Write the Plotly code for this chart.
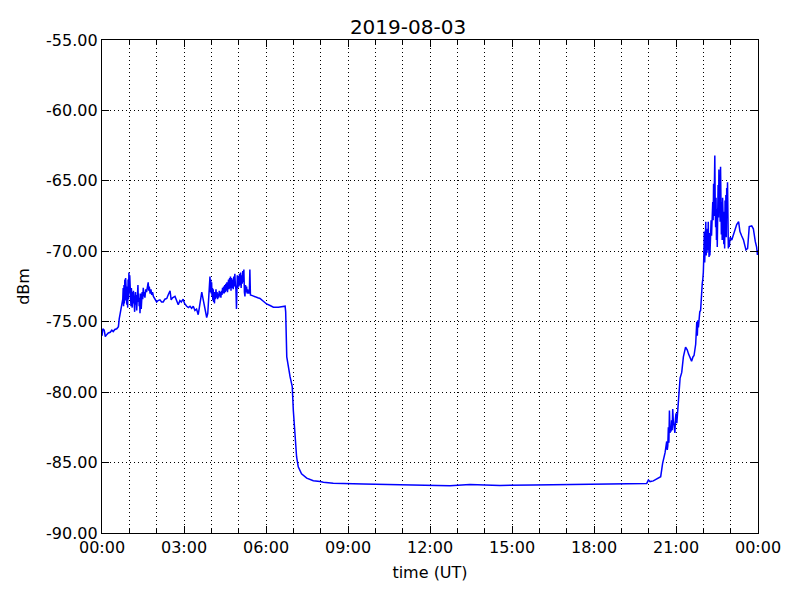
import plotly.graph_objects as go
import pandas as pd

title_text = "2019-08-03"
x_label = "time (UT)"
y_label = "dBm"

hours = [
    0.0, 0.03, 0.08, 0.12, 0.18, 0.23, 0.3, 0.36, 0.41, 0.47, 0.54, 0.6, 0.63, 0.66, 0.72,
    0.76, 0.775, 0.79, 0.805, 0.82, 0.835, 0.85, 0.865, 0.88, 0.895, 0.91, 0.925, 0.94, 0.955, 0.97, 0.985,
    1.0, 1.015, 1.03, 1.045, 1.06, 1.075, 1.09, 1.105, 1.12, 1.135, 1.15, 1.165, 1.18, 1.195, 1.21, 1.225,
    1.24, 1.255, 1.27, 1.285, 1.3, 1.315, 1.33, 1.345, 1.36, 1.375, 1.39, 1.405, 1.42, 1.435, 1.45,
    1.47, 1.49, 1.51, 1.53, 1.55, 1.57, 1.6, 1.63, 1.66, 1.69, 1.71, 1.73, 1.76, 1.79, 1.82, 1.85, 1.88,
    1.93, 2.0, 2.05, 2.12, 2.18, 2.24, 2.3, 2.37, 2.42, 2.49, 2.53, 2.58, 2.67, 2.73, 2.79, 2.85, 2.9,
    2.97, 3.02, 3.1, 3.16, 3.22, 3.28, 3.34, 3.4, 3.46, 3.52, 3.57, 3.62, 3.65, 3.69, 3.73, 3.78, 3.83,
    3.87, 3.9,
    3.93, 3.95, 3.965, 3.98, 3.995, 4.01, 4.025, 4.04, 4.055, 4.07, 4.085, 4.1, 4.115, 4.13, 4.15, 4.17,
    4.19, 4.21, 4.23, 4.25, 4.27, 4.29, 4.31, 4.33, 4.35, 4.37, 4.39, 4.41, 4.43, 4.45, 4.47, 4.49,
    4.51, 4.53, 4.55, 4.57, 4.59, 4.61, 4.63, 4.65, 4.67, 4.69, 4.7, 4.72, 4.74, 4.76, 4.78, 4.8,
    4.82, 4.84, 4.86, 4.88, 4.9, 4.92, 4.93, 4.95, 4.97, 4.99, 5.01, 5.03, 5.05, 5.07, 5.09, 5.11,
    5.13, 5.15, 5.17, 5.19, 5.21, 5.23, 5.25, 5.27, 5.29, 5.31, 5.33, 5.35, 5.37, 5.39, 5.41, 5.43,
    5.5, 5.6, 5.7, 5.78, 5.9, 6.02, 6.15, 6.27, 6.45, 6.63, 6.7, 6.72, 6.76, 6.88, 6.96, 7.0, 7.06,
    7.12, 7.18, 7.3, 7.49, 7.73, 7.98, 8.1, 8.46, 9.07, 9.56, 10.9, 12.0, 12.73, 13.46, 14.56, 15.78,
    16.76, 17.6, 18.8, 19.93, 19.99, 20.05, 20.17, 20.3, 20.35, 20.44, 20.51, 20.6,
    20.66, 20.68, 20.7, 20.72, 20.74, 20.76, 20.78, 20.8, 20.82, 20.84, 20.86, 20.88, 20.9, 20.93, 20.96,
    20.98, 21.0, 21.03, 21.05, 21.08, 21.15, 21.21, 21.27, 21.35, 21.41, 21.46, 21.51, 21.57, 21.62, 21.66,
    21.72, 21.76, 21.78, 21.8, 21.82, 21.85, 21.87, 21.9, 21.92, 21.94, 21.96, 21.98,
    22.0, 22.02, 22.035, 22.05, 22.065, 22.08, 22.09, 22.105, 22.12, 22.135, 22.15, 22.165, 22.18, 22.195,
    22.21, 22.225, 22.24, 22.255, 22.27, 22.285, 22.3, 22.315, 22.33, 22.345, 22.36, 22.375, 22.39, 22.405,
    22.42, 22.435, 22.45, 22.465, 22.48, 22.495, 22.51, 22.525, 22.54, 22.555, 22.57, 22.585, 22.6, 22.615,
    22.63, 22.645, 22.66, 22.675, 22.69, 22.705, 22.72, 22.735, 22.75, 22.765, 22.78, 22.795, 22.81, 22.825,
    22.84, 22.855, 22.87, 22.885, 22.9, 22.915, 22.93, 22.95, 22.98,
    23.04, 23.1, 23.16, 23.22, 23.29, 23.34, 23.4, 23.47, 23.52, 23.56, 23.62, 23.65, 23.68, 23.77, 23.83,
    23.9, 23.95, 23.98, 24.0]

dbm = [
    -76.0, -75.5, -75.6, -76.05, -75.9, -75.8, -75.75, -75.6, -75.7, -75.55, -75.5, -75.35, -74.8, -74.4, -73.9,
    -73.4, -72.6, -73.9, -72.4, -73.7, -72.0, -73.5, -71.9, -73.3, -72.2, -73.8, -72.5, -74.0, -72.0, -73.4, -71.5,
    -73.0, -71.7, -73.5, -72.5, -73.9, -72.6, -73.3, -74.0, -72.9, -73.7, -72.8, -73.6, -73.1, -74.3, -73.4, -72.9,
    -73.8, -73.1, -74.2, -73.5, -72.9, -72.4, -73.6, -73.0, -73.9, -73.3, -74.4, -73.5, -73.0, -74.1, -73.3,
    -72.9, -73.4, -72.6, -73.2, -72.9, -73.3, -72.7, -72.9, -72.4, -72.2, -72.8, -72.5, -73.0, -72.7, -73.1, -72.9, -73.2,
    -73.4, -73.6, -73.5, -73.45, -73.6, -73.6, -73.4, -73.35, -73.1, -72.8, -73.45, -73.3, -73.2, -73.5, -73.8, -73.5, -73.6,
    -73.4, -73.7, -73.9, -74.0, -73.9, -74.05, -73.9, -74.2, -74.1, -74.5, -73.9, -73.2, -72.9, -73.3, -73.7, -74.2, -74.7,
    -74.4, -73.5,
    -72.5, -71.8, -72.9, -72.0, -73.0, -72.2, -73.2, -72.6, -73.5, -72.7, -73.6, -73.0, -73.7, -72.9, -73.4, -72.7,
    -73.3, -72.9, -73.4, -73.0, -73.3, -72.8, -73.2, -72.9, -73.3, -72.8, -73.1, -72.6, -73.0, -72.5, -73.0, -72.4,
    -72.9, -72.3, -72.8, -72.2, -72.9, -72.4, -72.0, -72.7, -71.9, -72.6, -71.8, -72.8, -71.9, -72.6, -72.0, -72.7,
    -71.8, -72.5, -71.6, -72.4, -72.7, -74.1, -72.2, -71.7, -72.6, -71.8, -72.5, -71.6, -72.4, -71.5, -72.6, -71.7,
    -72.3, -71.4, -72.2, -71.3, -72.9, -73.2, -72.4, -72.9, -72.5, -73.0, -72.7, -73.0, -72.8, -73.0, -71.3, -73.1,
    -73.15, -73.2, -73.3, -73.35, -73.55, -73.74, -73.85, -73.97, -73.97, -73.9, -73.9, -74.3, -77.5, -78.9, -79.6, -81.3, -83.4,
    -84.6, -85.3, -85.8, -86.1, -86.29, -86.35, -86.4, -86.47, -86.52, -86.52, -86.57, -86.64, -86.64, -86.55, -86.62, -86.6,
    -86.57, -86.5, -86.48, -86.48, -86.24, -86.35, -86.3, -86.15, -86.1, -86.0, -85.05, -84.3,
    -83.5, -84.1, -83.8, -82.5, -83.6, -81.3, -82.9, -82.6, -82.8, -82.0, -82.7, -81.2, -82.0, -82.45, -82.9,
    -81.9, -81.5, -82.2, -81.7, -80.3, -79.0, -78.6, -77.5, -76.8, -77.0, -77.3, -77.6, -77.8, -77.5, -77.4,
    -76.6, -75.0, -76.0, -74.9, -75.4, -74.7, -74.3, -74.2, -73.3, -73.0, -72.3, -72.0,
    -71.5, -70.2, -68.6, -70.8, -68.2, -69.6, -67.9, -70.3, -68.8, -70.1, -68.4, -69.9, -67.9, -69.4,
    -70.4, -68.7, -70.3, -68.4, -69.6, -67.8, -68.9, -66.9, -68.2, -66.5, -67.8, -65.2, -67.5, -64.5,
    -63.2, -66.8, -68.3, -66.2, -69.2, -67.0, -69.7, -66.8, -65.3, -67.6, -64.2, -66.9, -64.8, -67.9,
    -64.0, -67.2, -68.8, -66.5, -69.2, -66.2, -68.4, -66.6, -69.5, -67.2, -69.8, -66.4, -68.8, -66.0,
    -69.0, -65.5, -67.5, -65.1, -68.4, -69.8, -69.2, -69.7, -69.0,
    -69.2, -68.8, -68.5, -68.1, -67.9, -68.6, -68.9, -69.2, -69.6, -69.9, -69.8, -68.4, -68.25, -68.2, -68.4,
    -69.3, -69.7, -70.26, -69.9]

assert len(hours) == len(dbm)

y_tickvals = [-90, -85, -80, -75, -70, -65, -60, -55]
y_ticktext = ["-90.00", "-85.00", "-80.00", "-75.00", "-70.00", "-65.00", "-60.00", "-55.00"]
x_tick_hours = [0, 3, 6, 9, 12, 15, 18, 21, 24]
x_ticktext = ["00:00", "03:00", "06:00", "09:00", "12:00", "15:00", "18:00", "21:00", "00:00"]

base = pd.Timestamp("2019-08-03 00:00:00")
times = base + pd.to_timedelta(hours, unit="h")
x_tickvals = base + pd.to_timedelta(x_tick_hours, unit="h")

fig = go.Figure()
fig.add_trace(go.Scatter(x=times, y=dbm, mode="lines",
                         line=dict(color="#0000ff", width=1.5), showlegend=False))

font = "DejaVu Sans, sans-serif"
fig.update_layout(
    width=800, height=600,
    margin=dict(l=94, r=50, t=32, b=75),
    paper_bgcolor="white", plot_bgcolor="white",
    font=dict(family=font, size=16, color="black"),
    title=dict(text=title_text, x=0.5, xanchor="center", y=0.968, yanchor="middle",
               font=dict(size=20, family=font, color="black")),
)
fig.update_xaxes(
    range=[x_tickvals[0], x_tickvals[-1]],
    tickmode="array", tickvals=x_tickvals, ticktext=x_ticktext,
    ticks="inside", ticklen=7, tickwidth=1, tickcolor="black",
    showline=True, linecolor="black", linewidth=1.3, mirror="ticks",
    showgrid=True, gridcolor="black", gridwidth=1, griddash="1px,3px",
    minor=dict(dtick=3600000, tick0=x_tickvals[0], ticks="inside", ticklen=4, tickcolor="black",
               showgrid=True, gridcolor="black", gridwidth=1, griddash="1px,3px"),
    zeroline=False,
    title=dict(text=x_label, font=dict(size=16, family=font), standoff=10),
    tickfont=dict(size=16, family=font),
)
fig.update_yaxes(
    range=[-90, -55],
    tickmode="array", tickvals=y_tickvals, ticktext=y_ticktext,
    ticks="inside", ticklen=7, tickwidth=1, tickcolor="black",
    showline=True, linecolor="black", linewidth=1.3, mirror="ticks",
    showgrid=True, gridcolor="black", gridwidth=1, griddash="1px,3px",
    zeroline=False,
    title=dict(text=y_label, font=dict(size=16, family=font), standoff=12),
    tickfont=dict(size=16, family=font),
)

fig.write_html("out.html")
